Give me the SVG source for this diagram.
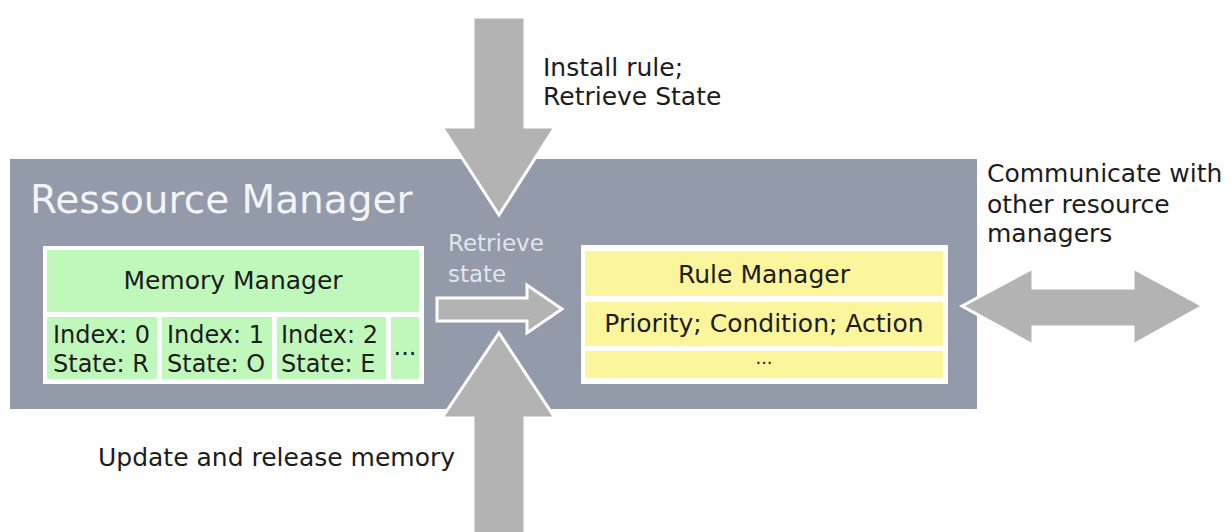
<svg xmlns="http://www.w3.org/2000/svg" width="1231" height="532" viewBox="0 0 1231 532">
  <style>
    text { font-family: "DejaVu Sans", Verdana, sans-serif; fill: #1c1c1c; }
    .lbl { font-size: 25px; }
    .cell { font-size: 24px; }
    .arrow { fill: #b3b3b3; stroke: #ffffff; stroke-width: 3; stroke-linejoin: miter; }
    .frame { fill: #ffffff; }
    .green { fill: #c0f8bb; }
    .yellow { fill: #fbf59b; }
  </style>
  <rect width="1231" height="532" fill="#ffffff"/>

  <!-- Resource manager container -->
  <g id="resource-manager">
    <rect x="10" y="159" width="967" height="250" fill="#939aa9"/>
    <text x="30" y="213" style="font-size:39px; fill:#f3f4f6">Ressource Manager</text>
  </g>

  <!-- Memory manager -->
  <g id="memory-manager">
    <rect class="frame" x="43" y="246" width="381" height="138"/>
    <rect class="green" x="47" y="250" width="372" height="62"/>
    <text class="lbl" x="233" y="289" text-anchor="middle">Memory Manager</text>
    <rect class="green" x="47" y="317" width="110" height="62"/>
    <rect class="green" x="162" y="317" width="110" height="62"/>
    <rect class="green" x="277" y="317" width="109" height="62"/>
    <rect class="green" x="391" y="317" width="28" height="62"/>
    <text class="cell" x="53" y="343">Index: 0</text>
    <text class="cell" x="53" y="372">State: R</text>
    <text class="cell" x="167" y="343">Index: 1</text>
    <text class="cell" x="167" y="372">State: O</text>
    <text class="cell" x="281" y="343">Index: 2</text>
    <text class="cell" x="281" y="372">State: E</text>
    <text class="cell" x="405" y="355" text-anchor="middle">...</text>
  </g>

  <!-- Rule manager -->
  <g id="rule-manager">
    <rect class="frame" x="581" y="245" width="367" height="139"/>
    <rect class="yellow" x="585" y="251" width="358" height="45"/>
    <rect class="yellow" x="585" y="302" width="358" height="44"/>
    <rect class="yellow" x="585" y="351" width="358" height="27"/>
    <text class="lbl" x="764" y="283" text-anchor="middle">Rule Manager</text>
    <text class="lbl" x="764" y="332" text-anchor="middle">Priority; Condition; Action</text>
    <text x="764" y="364" text-anchor="middle" style="font-size:18px">...</text>
  </g>

  <!-- Connectors -->
  <g id="connectors">
    <!-- incoming request arrow from above -->
    <polygon class="arrow" points="473,17 525,17 525,127 555,127 499,215 442,127 473,127"/>
    <!-- memory update arrow from below -->
    <polygon class="arrow" points="473,534 525,534 525,418 555,418 499,333 442,418 473,418"/>
    <!-- retrieve state: memory manager to rule manager -->
    <polygon class="arrow" points="437,298 527,298 527,285 562,309 527,333 527,321 437,321"/>
    <!-- link to other resource managers -->
    <polygon class="arrow" points="962,306 1033,268 1033,288 1133,288 1133,268 1203,306 1133,345 1133,327 1033,327 1033,345"/>
  </g>

  <!-- Connector labels -->
  <g id="labels">
    <text class="lbl" x="543" y="76">Install rule;</text>
    <text class="lbl" x="543" y="105">Retrieve State</text>
    <text x="448" y="251" style="font-size:23px; fill:#e2e5ea">Retrieve</text>
    <text x="448" y="282" style="font-size:23px; fill:#e2e5ea">state</text>
    <text class="lbl" x="98" y="466">Update and release memory</text>
    <text class="lbl" x="987" y="182">Communicate with</text>
    <text class="lbl" x="987" y="213">other resource</text>
    <text class="lbl" x="987" y="242">managers</text>
  </g>
</svg>
